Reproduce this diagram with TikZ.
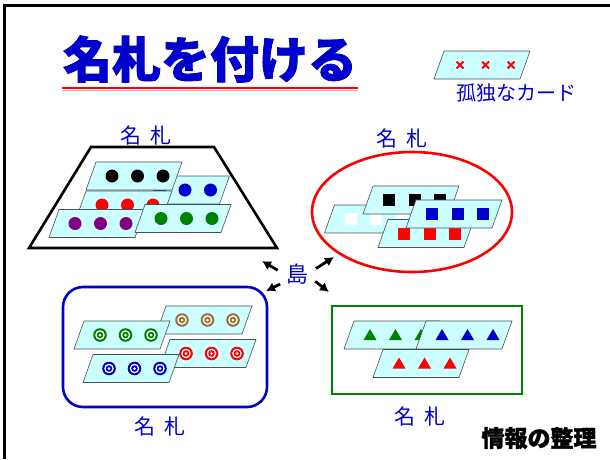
\documentclass[tikz,border=0pt]{standalone}
\usepackage{fontspec}
\setmainfont{Noto Sans CJK JP}
\newfontfamily\heavyfont{Noto Sans CJK JP}[BoldFeatures = {FakeBold = 1.6}]
\usetikzlibrary{arrows.meta}
\usetikzlibrary{positioning}
\usetikzlibrary{shapes.geometric}

\definecolor{cardcyan}{RGB}{204,255,255}
\definecolor{cardedge}{RGB}{80,80,80}
\definecolor{tagblue}{RGB}{0,0,204}
\definecolor{markgreen}{RGB}{0,128,0}
\definecolor{markpurple}{RGB}{128,0,128}
\definecolor{markbrown}{RGB}{160,110,60}
\definecolor{linepink}{RGB}{255,150,150}

\tikzset{
  % outline of one card
  card/.style = {
    draw = cardedge,
    fill = cardcyan,
    line width = 0.6pt
  },
  % cards with three marks each
  dot card/.pic = {
    \draw[card] (-38,-14) -- (48,-14) -- (38,14) -- (-48,14) -- cycle;
    \foreach \dx in {-22,3.5,29}
      \fill[#1] (\dx,0) circle (6.5pt);
  },
  square card/.pic = {
    \draw[card] (-38,-14) -- (48,-14) -- (38,14) -- (-48,14) -- cycle;
    \foreach \dx in {-22,3.5,29}
      \fill[#1] (\dx-6,-6) rectangle ++(12,12);
  },
  ring card/.pic = {
    \draw[card] (-38,-14) -- (48,-14) -- (38,14) -- (-48,14) -- cycle;
    \foreach \dx in {-22,3.5,29} {
      \fill[#1] (\dx,0) circle (6.8pt);
      \fill[white] (\dx,0) circle (4.8pt);
      \fill[#1] (\dx,0) circle (3.3pt);
      \fill[white] (\dx,0) circle (1.5pt);
    }
  },
  tri card/.pic = {
    \draw[card] (-38,-14) -- (48,-14) -- (38,14) -- (-48,14) -- cycle;
    \foreach \dx in {-22,3.5,29}
      \fill[#1] (\dx,-6) -- (\dx+6.5,5) -- (\dx-6.5,5) -- cycle;
  },
  cross card/.pic = {
    \draw[card] (-38,-14) -- (48,-14) -- (38,14) -- (-48,14) -- cycle;
    \foreach \dx in {-22,3.5,29}
      \draw[#1, line width = 1.8pt] (\dx-3.5,-3.5) -- (\dx+3.5,3.5)
        (\dx-3.5,3.5) -- (\dx+3.5,-3.5);
  }
}
\tikzset {
  frame/.style = {
    draw = black,
    line width = 3pt
  },
  % short arrows round the island
  isl arrow/.style = {
    -{Latex[length = 9pt, width = 10pt]},
    line width = 2.8pt
  },
  % group boundaries
  group/.style = {
    line width = 2.6pt,
    inner sep = 0
  }
}
\tikzset {
  title/.style = {
    text = tagblue,
    font = \fontsize{49}{49}\selectfont\heavyfont\bfseries,
    inner sep = 0
  },
  tag/.style = {
    text = tagblue,
    font = \fontsize{21}{21}\selectfont,
    inner sep = 1pt
  },
  sect/.style = {
    font = \fontsize{23}{23}\selectfont\heavyfont\bfseries,
    inner sep = 0
  }
}

\begin{document}
\begin{tikzpicture}[x = 1pt, y = -1pt]
    \useasboundingbox (0,0) rectangle (610,459);
    \draw[frame] (4,459) -- (4,5) -- (610,5);

    % heading
    \node[title] (ttl) at (210,59) {名札を付ける};
    \draw[red, line width = 2.6pt] (62,88) -- (358,88);
    \draw[linepink, line width = 1pt] (62,90.6) -- (358,90.6);

    % lonely card
    \pic at (482,65) {cross card = red};
    \node[tag, font = \fontsize{20}{20}\selectfont] (lone) at (516,93) {孤独なカード};

    % group 1: trapezoid
    \coordinate (trTL) at (91,147);
    \coordinate (trTR) at (214,147);
    \coordinate (trBR) at (277,248);
    \coordinate (trBL) at (29,248);
    \draw[group] (trTL) -- (trTR) -- (trBR) -- (trBL) -- cycle;
    \coordinate (trTop) at (146,147);
    \node[tag] (tagA) [above=1pt of trTop] {名\hspace{0.4em}札};
    \pic at (181.5,190) {dot card = tagblue};
    \pic at (134,176) {dot card = black};
    \pic at (124,205) {dot card = red};
    \pic at (97,223.5) {dot card = markpurple};
    \pic at (183,218.5) {dot card = markgreen};

    % group 2: ellipse
    \node[group, draw = red, ellipse, minimum width = 200pt,
      minimum height = 120pt] (grpB) at (412,212) {};
    \node[tag] (tagB) [above=1pt of grpB, xshift = -10pt] {名\hspace{0.4em}札};
    \pic at (372.5,219) {square card = white};
    \pic at (411,200) {square card = black};
    \pic at (426,233.5) {square card = red};
    \pic at (454,214) {square card = tagblue};

    % group 3: rounded box
    \node[group, draw = tagblue, rounded corners = 20pt, minimum width = 204pt,
      minimum height = 120pt] (grpC) at (165,347) {};
    \node[tag] (tagC) [below=7pt of grpC, xshift = -5pt] {名\hspace{0.4em}札};
    \pic at (204,320) {ring card = markbrown};
    \pic at (122,335) {ring card = markgreen};
    \pic at (208,353.5) {ring card = red};
    \pic at (131,368.5) {ring card = tagblue};

    % group 4: box
    \node[group, draw = markgreen, minimum width = 190pt,
      minimum height = 88pt] (grpD) at (427,350) {};
    \node[tag] (tagD) [below=10pt of grpD, xshift = -7pt] {名\hspace{0.4em}札};
    \pic at (392,335) {tri card = markgreen};
    \pic at (464,335) {tri card = tagblue};
    \pic at (421,363.5) {tri card = red};

    % island
    \node[tag, circle, minimum size = 39pt, inner sep = 0,
      font = \fontsize{22}{22}\selectfont] (shima) at (297,274) {島};
    \coordinate (toA) at (262,261);
    \coordinate (toB) at (334,257);
    \coordinate (toC) at (266,291);
    \coordinate (toD) at (329,292);
    \draw[isl arrow] (shima.169) -- (toA);
    \draw[isl arrow] (shima.16) -- (toB);
    \draw[isl arrow] (shima.211) -- (toC);
    \draw[isl arrow] (shima.338) -- (toD);

    \node[sect] (sect) at (539,438) {情報の整理};
  \end{tikzpicture}
\end{document}
